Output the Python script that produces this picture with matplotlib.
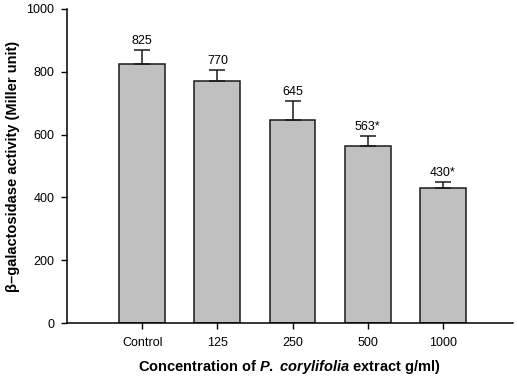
import numpy as np
import matplotlib
matplotlib.use("Agg")
import matplotlib.pyplot as plt

plt.rcParams['font.family'] = ['Liberation Sans', 'DejaVu Sans']
plt.rcParams['mathtext.fontset'] = 'custom'
plt.rcParams['mathtext.it'] = 'Liberation Sans:bold:italic'
plt.rcParams['mathtext.rm'] = 'Liberation Sans:bold'

# data
categories = ['Control', '125', '250', '500', '1000']
activity = [825, 770, 645, 563, 430]
errors = [44, 36, 62, 33, 19]
bar_labels = ['825', '770', '645', '563*', '430*']

fig = plt.figure(figsize=(5.17, 3.78), dpi=100)
ax = fig.add_axes([0.1296, 0.1455, 0.8624, 0.8307])

x = np.arange(len(categories))
ax.bar(x, activity, width=0.61, color='#c0c0c0', edgecolor='#1a1a1a',
       linewidth=1.1, zorder=2)
ax.errorbar(x, activity, yerr=[np.zeros(len(errors)), errors], fmt='none',
            ecolor='#1a1a1a', elinewidth=1.1, capsize=5.5, capthick=1.1, zorder=3)

for xi, v, e, lab in zip(x, activity, errors, bar_labels):
    ax.annotate(lab, (xi, v + e), xytext=(0, 2), textcoords='offset points',
                ha='center', va='bottom', fontsize=9)

ax.set_xlim(-1.0, 4.93)
ax.set_ylim(0, 1000)
ax.set_yticks(np.arange(0, 1001, 200))
ax.set_xticks(x)
ax.set_xticklabels(categories)
ax.tick_params(axis='both', labelsize=9, direction='out', length=4, width=1)
ax.tick_params(axis='x', pad=6)
ax.tick_params(axis='y', pad=5)

ax.spines['top'].set_visible(False)
ax.spines['right'].set_visible(False)
ax.spines['left'].set_linewidth(1.1)
ax.spines['bottom'].set_linewidth(1.1)

ax.set_ylabel('β–galactosidase activity (Miller unit)', fontsize=10.5,
              fontweight='bold', va='center')
ax.yaxis.set_label_coords(-0.121, 0.5)
ax.set_xlabel(r'Concentration of $\mathit{P.}$ $\mathit{corylifolia}$ extract g/ml)',
              fontsize=10.5, fontweight='bold', va='center')
ax.xaxis.set_label_coords(0.5, -0.14)

fig.savefig('out.png', dpi=100)
